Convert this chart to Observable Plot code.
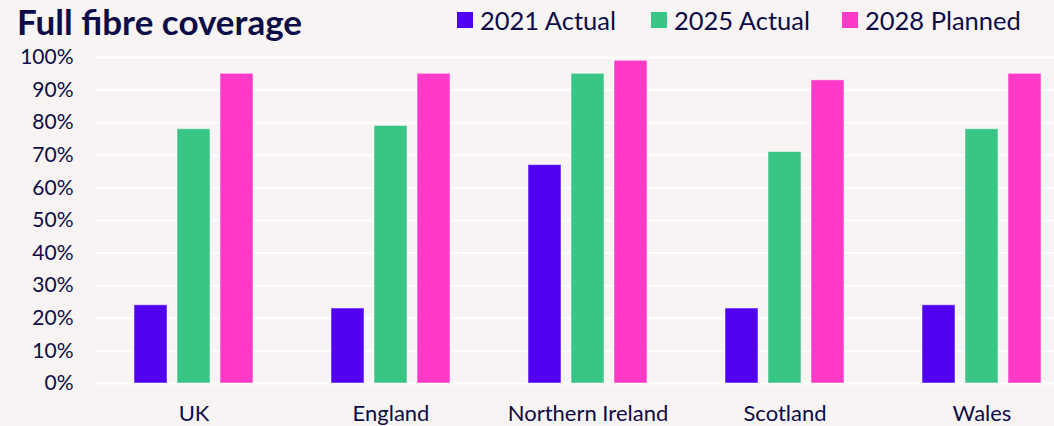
<!DOCTYPE html>
<html>
<head>
<meta charset="utf-8">
<script src="https://cdn.jsdelivr.net/npm/d3@7"></script>
<script src="https://cdn.jsdelivr.net/npm/@observablehq/plot@0.6"></script>
<style>
  html, body { margin: 0; padding: 0; background: #f8f4f3; overflow: hidden; width: 1054px; height: 426px; }
  #wrap { position: relative; width: 1054px; height: 426px; overflow: hidden; font-family: Lato, sans-serif; color: #0c0c48; }
  #title { position: absolute; left: 17px; top: 0px; font-size: 35px; line-height: normal; font-weight: 700; white-space: nowrap; }
  #legend { position: absolute; left: 0; top: 0; width: 1054px; height: 40px; font-size: 25.5px; white-space: nowrap; }
  .item { position: absolute; top: 4px; display: flex; align-items: center; height: 32px; }
  .sw { width: 16px; height: 16px; margin-right: 7px; }
  #chart { position: absolute; left: 0; top: 0; width: 1082px; }
  #chart svg { max-width: none !important; }
</style>
</head>
<body>
<div id="wrap">
  <div id="chart"></div>
  <div id="title">Full fibre coverage</div>
  <div id="legend"></div>
</div>
<script>
const categories = ["UK", "England", "Northern Ireland", "Scotland", "Wales"];
const seriesNames = ["2021 Actual", "2025 Actual", "2028 Planned"];
const actual2021 = [24, 23, 67, 23, 24];
const actual2025 = [78, 79, 95, 71, 78];
const planned2028 = [95, 95, 99, 93, 95];
const colors = ["#5200f0", "#38c585", "#ff3ac8"];
const yTicks = [0, 10, 20, 30, 40, 50, 60, 70, 80, 90, 100];
const legendLeft = [457, 651, 842];

const seriesValues = [actual2021, actual2025, planned2028];
const data = [];
categories.forEach((c, i) => {
  seriesNames.forEach((s, j) => data.push({category: c, series: s, value: seriesValues[j][i]}));
});

const legend = document.getElementById("legend");
seriesNames.forEach((s, j) => {
  const it = document.createElement("div");
  it.className = "item";
  it.style.left = legendLeft[j] + "px";
  it.innerHTML = `<span class="sw" style="background:${colors[j]}"></span><span>${s}</span>`;
  legend.appendChild(it);
});

const chart = Plot.plot({
  width: 1082,
  height: 426,
  marginTop: 57,
  marginBottom: 43,
  marginLeft: 93,
  marginRight: 0,
  style: {background: "transparent", color: "#0c0c48", fontFamily: "Lato, sans-serif", maxWidth: "none"},
  fx: {domain: categories, padding: 0, label: null},
  x: {domain: seriesNames, paddingInner: 0.227, paddingOuter: 0.864, axis: null},
  y: {domain: [0, 100], label: null},
  color: {domain: seriesNames, range: colors},
  marks: [
    Plot.gridY(yTicks, {stroke: "#ffffff", strokeOpacity: 1, strokeWidth: 2}),
    Plot.axisY(yTicks, {tickSize: 0, tickPadding: 22, tickFormat: d => d + "%", fontSize: 21, fill: "#0c0c48", label: null}),
    Plot.axisFx({anchor: "bottom", tickSize: 0, tickPadding: 22, fontSize: 22, fill: "#0c0c48", label: null}),
    Plot.barY(data, {fx: "category", x: "series", y: "value", fill: "series", stroke: "#ffffff", strokeOpacity: 0.5, strokeWidth: 1, inset: 0})
  ]
});
document.getElementById("chart").appendChild(chart);
</script>
</body>
</html>
